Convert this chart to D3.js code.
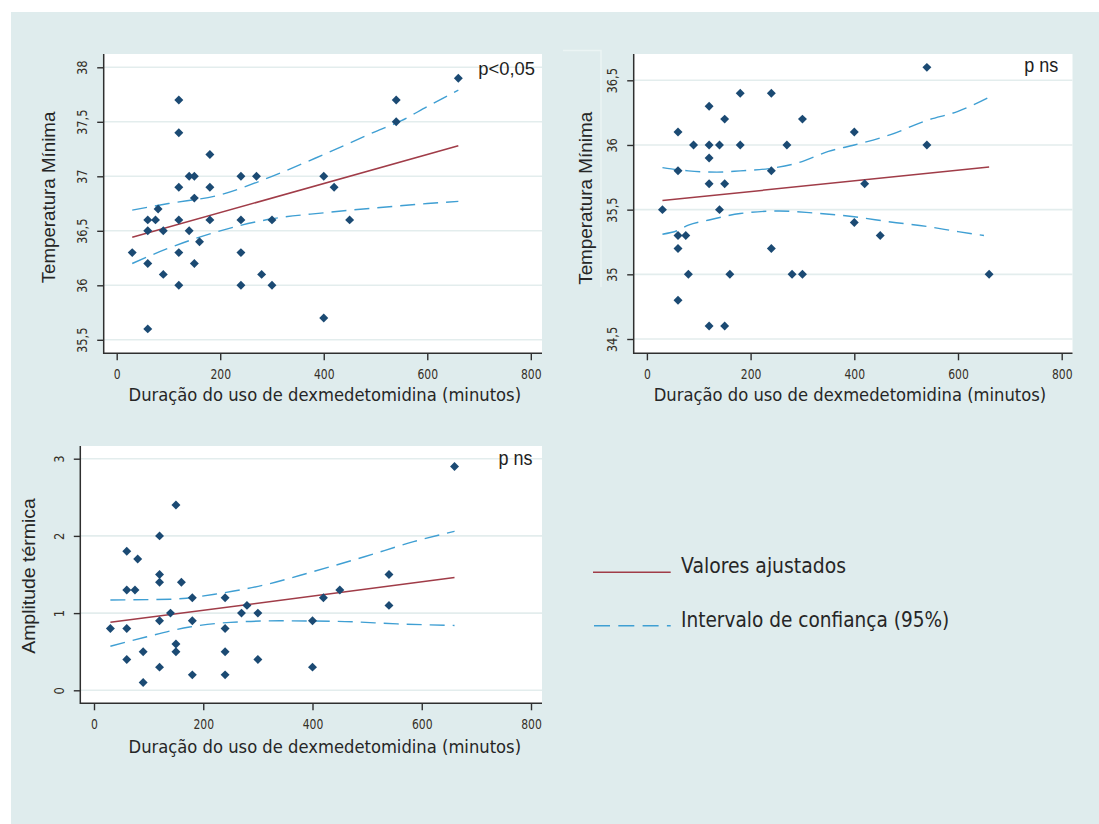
<!DOCTYPE html>
<html>
<head>
<meta charset="utf-8">
<script src="https://cdn.jsdelivr.net/npm/d3@7"></script>
<style>
  html, body { margin: 0; padding: 0; background: #ffffff; }
  svg { display: block; }
</style>
</head>
<body>
<svg id="chart" width="1099" height="824"></svg>
<script>
// ---------------- DATA ----------------
const xTicks = [0, 200, 400, 600, 800];
const xTitle = "Duração do uso de dexmedetomidina (minutos)";

// Panel 1: Temperatura Mínima
const p1X = [30,60,60,60,60,75,80,90,90,120,120,120,120,120,120,140,140,150,150,150,160,180,180,180,240,240,240,240,270,280,300,300,400,400,420,450,540,540,660];
const p1Y = [36.3,36.6,36.5,36.2,35.6,36.6,36.7,36.5,36.1,37.7,37.4,36.9,36.6,36.3,36.0,36.5,37.0,37.0,36.8,36.2,36.4,37.2,36.9,36.6,37.0,36.6,36.3,36.0,37.0,36.1,36.6,36.0,37.0,35.7,36.9,36.6,37.7,37.5,37.9];
const p1FitX = [30, 660];
const p1FitY = [36.44, 37.28];
const p1UpX = [30, 100, 200, 300, 400, 500, 550, 600, 660];
const p1UpY = [36.69, 36.75, 36.83, 37.0, 37.2, 37.41, 37.51, 37.64, 37.79];
const p1LoX = [30, 100, 200, 300, 400, 500, 600, 660];
const p1LoY = [36.2, 36.34, 36.5, 36.61, 36.665, 36.71, 36.75, 36.77];
const p1YTicks = [35.5, 36, 36.5, 37, 37.5, 38];
const p1YTitle = "Temperatura Mínima";
const p1Label = "p<0,05";

// Panel 2: Temperatura Mínima
const p2X = [30,60,60,60,60,60,75,80,90,120,120,120,120,120,140,140,150,150,150,160,180,180,240,240,240,270,280,300,300,400,400,420,450,540,540,660];
const p2Y = [35.5,36.1,35.8,35.3,35.2,34.8,35.3,35.0,36.0,36.3,36.0,35.9,35.7,34.6,36.0,35.5,36.2,35.7,34.6,35.0,36.4,36.0,36.4,35.8,35.2,36.0,35.0,36.2,35.0,36.1,35.4,35.7,35.3,36.6,36.0,35.0];
const p2FitX = [30, 660];
const p2FitY = [35.57, 35.83];
const p2UpX = [30, 80, 135, 180, 240, 290, 350, 400, 470, 540, 600, 660];
const p2UpY = [35.825, 35.80, 35.79, 35.80, 35.82, 35.86, 35.95, 36.0, 36.08, 36.19, 36.26, 36.37];
const p2LoX = [30, 60, 80, 120, 180, 255, 320, 400, 470, 540, 600, 650];
const p2LoY = [35.31, 35.34, 35.38, 35.42, 35.47, 35.49, 35.475, 35.445, 35.405, 35.37, 35.33, 35.30];
const p2YTicks = [34.5, 35, 35.5, 36, 36.5];
const p2YTitle = "Temperatura Mínima";
const p2Label = "p ns";

// Panel 3: Amplitude térmica
const p3X = [30,60,60,60,60,75,80,90,90,120,120,120,120,120,140,150,150,150,160,180,180,180,240,240,240,240,270,280,300,300,400,400,420,450,540,540,660];
const p3Y = [0.8,1.8,1.3,0.8,0.4,1.3,1.7,0.5,0.1,2.0,1.5,1.4,0.9,0.3,1.0,2.4,0.6,0.5,1.4,1.2,0.9,0.2,1.2,0.8,0.5,0.2,1.0,1.1,1.0,0.4,0.9,0.3,1.2,1.3,1.5,1.1,2.9];
const p3FitX = [30, 660];
const p3FitY = [0.88, 1.46];
const p3UpX = [30, 140, 230, 315, 400, 495, 585, 660];
const p3UpY = [1.17, 1.18, 1.255, 1.37, 1.535, 1.73, 1.925, 2.06];
const p3LoX = [30, 95, 175, 250, 340, 460, 555, 660];
const p3LoY = [0.57, 0.69, 0.82, 0.88, 0.90, 0.89, 0.86, 0.84];
const p3YTicks = [0, 1, 2, 3];
const p3YTitle = "Amplitude térmica";
const p3Label = "p ns";

const legendLabels = ["Valores ajustados", "Intervalo de confiança (95%)"];

// ---------------- STYLE ----------------
const BG = "#dfeced";
const GRID = "#e3eded";
const AXIS = "#2f2f2f";
const MARK = "#1b4a73";
const FIT = "#a03c48";
const CI = "#3f9fd3";
const TXT = "#262626";
const DASH = "15,8";

const svg = d3.select("#chart");
svg.append("rect").attr("x", 11).attr("y", 12).attr("width", 1099 - 11).attr("height", 824 - 12).attr("fill", BG);

// faint artifact box in panel 2 title area
svg.append("path").attr("d", "M563,50.5 H601 V287").attr("fill", "none").attr("stroke", "#ebf4f4").attr("stroke-width", 1.5);

const fmt = d => String(d).replace(".", ",");

const panels = [
  { X: p1X, Y: p1Y, fitX: p1FitX, fitY: p1FitY, upX: p1UpX, upY: p1UpY, loX: p1LoX, loY: p1LoY,
    yTicks: p1YTicks, yTitle: p1YTitle, label: p1Label,
    l: 103.7, r: 542, t: 54, b: 353.3, xr: [116.7, 530.8], yd: [35.5, 38], yr: [339.8, 67.3],
    xtC: 324.8, xtB: 401, ytX: 54.5, ytC: 197.5, ytLen: 171.6, labX: 478.3, labB: 75, labLen: 56.7, labSize: 18.5 },
  { X: p2X, Y: p2Y, fitX: p2FitX, fitY: p2FitY, upX: p2UpX, upY: p2UpY, loX: p2LoX, loY: p2LoY,
    yTicks: p2YTicks, yTitle: p2YTitle, label: p2Label,
    l: 633.7, r: 1072.5, t: 54, b: 353.3, xr: [646.9, 1061.7], yd: [34.5, 36.5], yr: [339, 80.3],
    xtC: 850, xtB: 401, ytX: 592, ytC: 198.3, ytLen: 173, labX: 1024.2, labB: 72, labLen: 34, labSize: 20.5 },
  { X: p3X, Y: p3Y, fitX: p3FitX, fitY: p3FitY, upX: p3UpX, upY: p3UpY, loX: p3LoX, loY: p3LoY,
    yTicks: p3YTicks, yTitle: p3YTitle, label: p3Label,
    l: 80.3, r: 542, t: 446, b: 703.3, xr: [94, 531], yd: [0, 3], yr: [690.3, 458.7],
    xtC: 324.8, xtB: 752.7, ytX: 35, ytC: 576, ytLen: 155.7, labX: 498.6, labB: 464.5, labLen: 34, labSize: 20.5 }
];

panels.forEach(p => {
  const x = d3.scaleLinear().domain([0, 800]).range(p.xr);
  const y = d3.scaleLinear().domain(p.yd).range(p.yr);
  const g = svg.append("g");

  // plot area
  g.append("rect").attr("x", p.l).attr("y", p.t).attr("width", p.r - p.l).attr("height", p.b - p.t).attr("fill", "#ffffff");

  // grid
  g.append("g").selectAll("line").data(p.yTicks).join("line")
    .attr("x1", p.l).attr("x2", p.r).attr("y1", d => y(d)).attr("y2", d => y(d))
    .attr("stroke", GRID).attr("stroke-width", 1.6);

  // x axis
  const xa = g.append("g").attr("transform", `translate(0,${p.b})`)
    .call(d3.axisBottom(x).tickValues(xTicks).tickSize(7).tickSizeOuter(0).tickFormat(d3.format("d")));
  xa.select(".domain").remove();
  xa.selectAll(".tick line").attr("stroke", AXIS).attr("stroke-width", 1.4);
  xa.selectAll(".tick text").attr("y", 26).attr("dy", 0)
    .attr("transform", "scale(0.8,1)")
    .attr("font-family", "DejaVu Sans").attr("font-size", 13.5).attr("fill", "#353028");

  // y axis
  const ya = g.append("g").attr("transform", `translate(${p.l},0)`)
    .call(d3.axisLeft(y).tickValues(p.yTicks).tickSize(6.5).tickSizeOuter(0).tickFormat(fmt));
  ya.select(".domain").remove();
  ya.selectAll(".tick line").attr("stroke", AXIS).attr("stroke-width", 1.4);
  ya.selectAll(".tick text").attr("transform", "rotate(-90) scale(0.85,1)").attr("x", 0).attr("y", -16.5).attr("dy", 0)
    .attr("text-anchor", "middle")
    .attr("font-family", "DejaVu Sans").attr("font-size", 13.5).attr("fill", "#353028");

  // axis lines
  g.append("line").attr("x1", p.l).attr("x2", p.l).attr("y1", p.t).attr("y2", p.b + 0.7).attr("stroke", AXIS).attr("stroke-width", 1.5);
  g.append("line").attr("x1", p.l).attr("x2", p.r).attr("y1", p.b).attr("y2", p.b).attr("stroke", AXIS).attr("stroke-width", 1.5);

  // CI lines
  const line = d3.line().x(d => x(d[0])).y(d => y(d[1])).curve(d3.curveMonotoneX);
  g.append("path").attr("d", line(d3.zip(p.upX, p.upY))).attr("fill", "none")
    .attr("stroke", CI).attr("stroke-width", 1.4).attr("stroke-dasharray", DASH);
  g.append("path").attr("d", line(d3.zip(p.loX, p.loY))).attr("fill", "none")
    .attr("stroke", CI).attr("stroke-width", 1.4).attr("stroke-dasharray", DASH);
  // fitted line
  g.append("path").attr("d", line(d3.zip(p.fitX, p.fitY))).attr("fill", "none")
    .attr("stroke", FIT).attr("stroke-width", 1.5);

  // markers
  const sym = d3.symbol().type(d3.symbolSquare).size(40);
  g.append("g").selectAll("path").data(d3.zip(p.X, p.Y)).join("path")
    .attr("d", sym)
    .attr("transform", d => `translate(${x(d[0])},${y(d[1])}) rotate(45)`)
    .attr("fill", MARK);

  // p label
  g.append("text").attr("x", p.labX).attr("y", p.labB).text(p.label)
    .attr("font-family", "Liberation Sans, Arial, sans-serif").attr("font-size", p.labSize)
    .attr("textLength", p.labLen).attr("lengthAdjust", "spacingAndGlyphs").attr("fill", "#1e1e1e");

  // x title
  g.append("text").attr("x", p.xtC).attr("y", p.xtB).attr("text-anchor", "middle").text(xTitle)
    .attr("font-family", "DejaVu Sans").attr("font-size", 18.5)
    .attr("textLength", 392.5).attr("lengthAdjust", "spacingAndGlyphs").attr("fill", TXT);

  // y title
  g.append("text").attr("transform", `translate(${p.ytX},${p.ytC}) rotate(-90)`)
    .attr("text-anchor", "middle").text(p.yTitle)
    .attr("font-family", "Liberation Sans, Arial, sans-serif").attr("font-size", 18.5)
    .attr("textLength", p.ytLen).attr("lengthAdjust", "spacingAndGlyphs").attr("fill", TXT);
});

// ---------------- LEGEND ----------------
const lg = svg.append("g");
lg.append("line").attr("x1", 593).attr("x2", 670.7).attr("y1", 572.3).attr("y2", 572.3)
  .attr("stroke", FIT).attr("stroke-width", 1.6);
lg.append("line").attr("x1", 594).attr("x2", 670.7).attr("y1", 625.7).attr("y2", 625.7)
  .attr("stroke", CI).attr("stroke-width", 1.6).attr("stroke-dasharray", "16,8.3");
lg.append("text").attr("x", 681).attr("y", 573.3).text(legendLabels[0])
  .attr("font-family", "DejaVu Sans").attr("font-size", 20.5)
  .attr("textLength", 165).attr("lengthAdjust", "spacingAndGlyphs").attr("fill", TXT);
lg.append("text").attr("x", 681).attr("y", 627.3).text(legendLabels[1])
  .attr("font-family", "DejaVu Sans").attr("font-size", 20.5)
  .attr("textLength", 268.3).attr("lengthAdjust", "spacingAndGlyphs").attr("fill", TXT);
</script>
</body>
</html>
